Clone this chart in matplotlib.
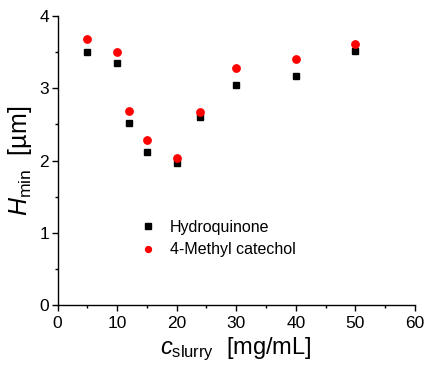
import matplotlib.pyplot as plt
from matplotlib.ticker import MultipleLocator

plt.rcParams['font.family'] = ['Liberation Sans', 'DejaVu Sans']
plt.rcParams['mathtext.fontset'] = 'custom'
plt.rcParams['mathtext.rm'] = 'Liberation Sans'
plt.rcParams['mathtext.it'] = 'Liberation Sans:italic'

# slurry concentration [mg/mL]
c_slurry = [5, 10, 12, 15, 20, 24, 30, 40, 50]
# minimum height [um]
h_hydroquinone = [3.50, 3.345, 2.515, 2.12, 1.96, 2.60, 3.05, 3.165, 3.515]
h_methylcatechol = [3.69, 3.51, 2.68, 2.28, 2.04, 2.67, 3.28, 3.41, 3.61]

fig = plt.figure(figsize=(4.26, 3.67), dpi=100)
ax = fig.add_axes([0.135, 0.169, 0.839, 0.787])

ax.plot(c_slurry, h_hydroquinone, 's', color='black', markersize=4.6,
        linestyle='none', label='Hydroquinone')
ax.plot(c_slurry, h_methylcatechol, 'o', color='red', markersize=5.3,
        linestyle='none', label='4-Methyl catechol')

ax.set_xlim(0, 60)
ax.set_ylim(0, 4)
ax.xaxis.set_major_locator(MultipleLocator(10))
ax.xaxis.set_minor_locator(MultipleLocator(5))
ax.yaxis.set_major_locator(MultipleLocator(1))
ax.yaxis.set_minor_locator(MultipleLocator(0.5))

for s in ['top', 'right']:
    ax.spines[s].set_visible(False)
for s in ['left', 'bottom']:
    ax.spines[s].set_linewidth(1.0)

ax.tick_params(which='major', direction='out', length=4, width=1,
               labelsize=12.5)
ax.tick_params(axis='x', which='major', pad=4)
ax.tick_params(axis='y', which='major', pad=2)
ax.tick_params(which='minor', direction='out', length=2.5, width=1)

ax.set_xlabel(r'$\mathit{c}_{\rm slurry}$  [mg/mL]', fontsize=17, labelpad=3)
ax.set_ylabel(r'$\mathit{H}_{\rm min}$  [µm]', fontsize=18, labelpad=4)

ax.legend(loc='center left', bbox_to_anchor=(0.19, 0.23), frameon=False,
          fontsize=11.5, handletextpad=0.9, labelspacing=0.45,
          handlelength=1.0, markerscale=0.8)

fig.savefig('out.png', dpi=100)
